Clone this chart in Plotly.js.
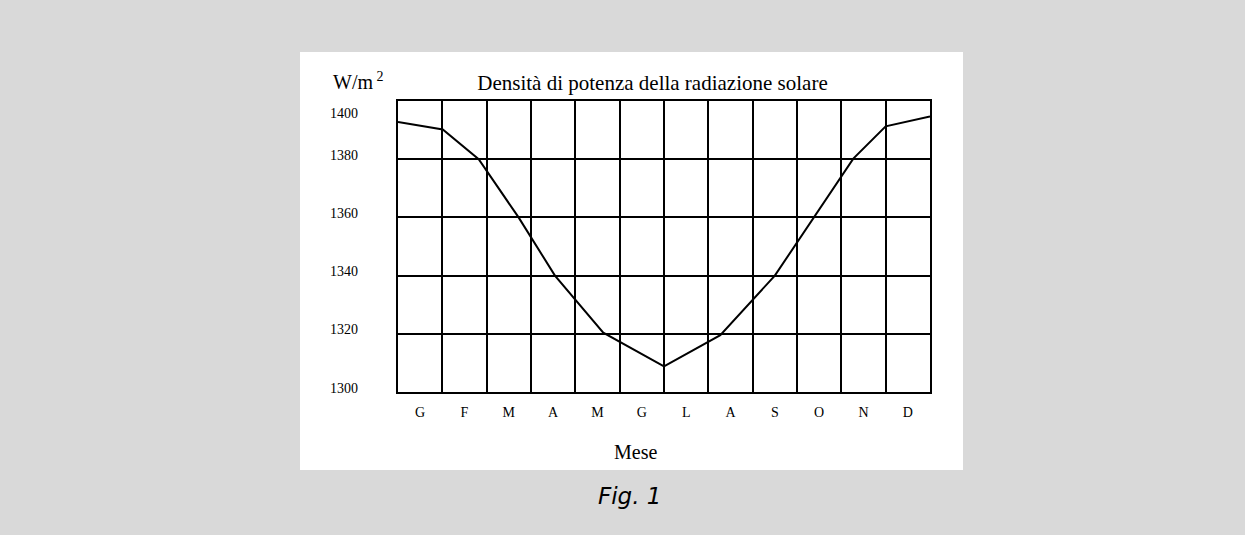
<!DOCTYPE html>
<html>
<head>
<meta charset="utf-8">
<script src="https://cdn.plot.ly/plotly-3.0.1.min.js"></script>
<style>
html,body{margin:0;padding:0;background:#d9d9d9;}
#chart{width:1245px;height:535px;}
</style>
</head>
<body>
<div id="chart"></div>
<script>
// ---- data ----
var monthLabels = ['G','F','M','A','M','G','L','A','S','O','N','D'];
var monthPositions = [0.5,1.5,2.5,3.5,4.5,5.5,6.5,7.5,8.5,9.5,10.5,11.5];
// curve vertices (x in month units from start of January, y in W/m²)
var curveX = [0, 1.01, 1.82, 2.72, 3.54, 4.63, 6.0, 7.27, 8.5, 10.27, 11.0, 12];
var curveY = [1392.8, 1390.2, 1380, 1360, 1340, 1320.4, 1308.8, 1319.5, 1340, 1380.2, 1391.3, 1394.7];
var yTicks = [1300, 1320, 1340, 1360, 1380, 1400];
var yTickLabels = ['1300','1320','1340','1360','1380','1400'];
var titleText = 'Densità di potenza della radiazione solare';
var unitText = 'W/m<sup> 2</sup>';
var xTitleText = 'Mese';
var captionText = '<i>Fig. 1</i>';

// ---- layout geometry (pixels) ----
var W = 1245, H = 535;
var L = 398, R = 930, T = 101, B = 392;
function px2x(px){ return (px - L) / (R - L); }
function py2y(py){ return (B - py) / (B - T); }

var serif = 'Liberation Serif, Times New Roman, serif';

var annotations = [];
yTicks.forEach(function(v, i){
  annotations.push({
    x: px2x(360), xref: 'paper', xanchor: 'right',
    y: v, yref: 'y', yanchor: 'middle',
    yshift: (v === 1400 ? -12 : 4),
    text: yTickLabels[i], showarrow: false,
    font: {family: serif, size: 14, color: '#000'}
  });
});
annotations.push({
  x: px2x(331), xref: 'paper', xanchor: 'left',
  y: py2y(81), yref: 'paper', yanchor: 'middle',
  text: unitText, showarrow: false,
  font: {family: serif, size: 20, color: '#000'}
});
annotations.push({
  x: px2x(635.5), xref: 'paper', xanchor: 'center',
  y: py2y(452), yref: 'paper', yanchor: 'middle',
  text: xTitleText, showarrow: false,
  font: {family: serif, size: 20, color: '#000'}
});
annotations.push({
  x: px2x(629.5), xref: 'paper', xanchor: 'center',
  y: py2y(496), yref: 'paper', yanchor: 'middle',
  text: captionText, showarrow: false,
  font: {family: 'DejaVu Sans, Verdana, sans-serif', size: 23, color: '#000'}
});

var trace = {
  x: curveX, y: curveY, type: 'scatter', mode: 'lines',
  line: {color: '#000', width: 2},
  hoverinfo: 'skip'
};

var layout = {
  width: W, height: H,
  margin: {l: L, r: W - R, t: T, b: H - B, pad: 0},
  paper_bgcolor: '#d9d9d9',
  plot_bgcolor: '#ffffff',
  showlegend: false,
  title: {
    text: titleText,
    font: {family: serif, size: 21, color: '#000'},
    xref: 'paper', x: px2x(652.5), xanchor: 'center',
    yref: 'container', y: 1 - 83 / H, yanchor: 'middle'
  },
  xaxis: {
    range: [0, 12], fixedrange: true,
    tickmode: 'array', tickvals: monthPositions, ticktext: monthLabels,
    showgrid: false, zeroline: false,
    showline: true, mirror: true, linecolor: '#000', linewidth: 2,
    ticks: '', ticklabelstandoff: 6,
    tickfont: {family: serif, size: 14, color: '#000'},
    minor: {tick0: 0, dtick: 1, showgrid: true, gridcolor: '#000', gridwidth: 2, ticks: ''}
  },
  yaxis: {
    range: [1300, 1400], fixedrange: true,
    tickmode: 'array', tickvals: yTicks,
    showticklabels: false,
    showgrid: true, gridcolor: '#000', gridwidth: 2, zeroline: false,
    showline: true, mirror: true, linecolor: '#000', linewidth: 2,
    ticks: ''
  },
  shapes: [{
    type: 'rect', layer: 'below',
    xref: 'paper', yref: 'paper',
    x0: px2x(300), x1: px2x(963), y0: py2y(470), y1: py2y(52),
    fillcolor: '#ffffff', line: {width: 0}
  }],
  annotations: annotations
};

Plotly.newPlot('chart', [trace], layout, {displayModeBar: false, staticPlot: true});
</script>
</body>
</html>
